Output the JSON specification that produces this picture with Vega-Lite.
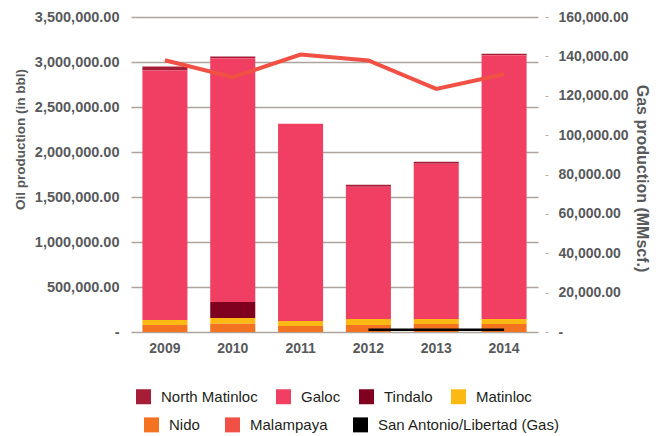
{
  "$schema": "https://vega.github.io/schema/vega-lite/v6.json",
  "autosize": "none",
  "padding": {"left": 131, "top": 17, "right": 132, "bottom": 104},
  "width": 407,
  "height": 315,
  "background": "white",
  "config": {
    "view": {"stroke": null},
    "font": "Liberation Sans",
    "axis": {"labelFont": "Liberation Sans", "titleFont": "Liberation Sans"},
    "legend": {"labelFont": "Liberation Sans"}
  },
  "datasets": {
    "stackorder": [
      {"series": "Nido", "rank": 1},
      {"series": "Matinloc", "rank": 2},
      {"series": "Tindalo", "rank": 3},
      {"series": "Galoc", "rank": 4},
      {"series": "North Matinloc", "rank": 5}
    ],
    "oil": [
      {"year": "2009", "series": "North Matinloc", "oil": 45000},
      {"year": "2009", "series": "Galoc", "oil": 2771000},
      {"year": "2009", "series": "Matinloc", "oil": 56000},
      {"year": "2009", "series": "Nido", "oil": 78000},
      {"year": "2010", "series": "North Matinloc", "oil": 19000},
      {"year": "2010", "series": "Galoc", "oil": 2708000},
      {"year": "2010", "series": "Tindalo", "oil": 178000},
      {"year": "2010", "series": "Matinloc", "oil": 63000},
      {"year": "2010", "series": "Nido", "oil": 92000},
      {"year": "2011", "series": "Galoc", "oil": 2192000},
      {"year": "2011", "series": "Matinloc", "oil": 56000},
      {"year": "2011", "series": "Nido", "oil": 67000},
      {"year": "2012", "series": "North Matinloc", "oil": 22000},
      {"year": "2012", "series": "Galoc", "oil": 1469000},
      {"year": "2012", "series": "Matinloc", "oil": 67000},
      {"year": "2012", "series": "Nido", "oil": 78000},
      {"year": "2013", "series": "North Matinloc", "oil": 22000},
      {"year": "2013", "series": "Galoc", "oil": 1725000},
      {"year": "2013", "series": "Matinloc", "oil": 56000},
      {"year": "2013", "series": "Nido", "oil": 89000},
      {"year": "2014", "series": "North Matinloc", "oil": 17000},
      {"year": "2014", "series": "Galoc", "oil": 2930000},
      {"year": "2014", "series": "Matinloc", "oil": 56000},
      {"year": "2014", "series": "Nido", "oil": 89000}
    ],
    "gas": [
      {"year": "2009", "series": "Malampaya", "gas": 138000},
      {"year": "2010", "series": "Malampaya", "gas": 129400},
      {"year": "2011", "series": "Malampaya", "gas": 140900},
      {"year": "2012", "series": "Malampaya", "gas": 137900},
      {"year": "2013", "series": "Malampaya", "gas": 123500},
      {"year": "2014", "series": "Malampaya", "gas": 130900},
      {"year": "2012", "series": "San Antonio/Libertad (Gas)", "gas": 1200},
      {"year": "2013", "series": "San Antonio/Libertad (Gas)", "gas": 1200},
      {"year": "2014", "series": "San Antonio/Libertad (Gas)", "gas": 1200}
    ]
  },
  "encoding": {
    "x": {
      "field": "year", "type": "ordinal",
      "scale": {"paddingInner": 0.336, "paddingOuter": 0.168},
      "axis": {
        "title": null, "domain": false, "ticks": false, "labelAngle": 0,
        "labelFontSize": 14, "labelFontWeight": "bold", "labelColor": "#58595B",
        "labelPadding": 9
      }
    }
  },
  "layer": [
    {
      "data": {"name": "oil"},
      "transform": [
        {"lookup": "series", "from": {"data": {"name": "stackorder"}, "key": "series", "fields": ["rank"]}}
      ],
      "mark": {"type": "bar"},
      "encoding": {
        "y": {
          "field": "oil", "type": "quantitative", "stack": "zero",
          "scale": {"domain": [0, 3500000], "nice": false},
          "axis": {
            "title": "Oil production (in bbl)", "titleFontSize": 13.5, "titleFontWeight": "bold",
            "titleColor": "#58595B", "titleX": -111, "titleY": 122, "titleBaseline": "middle",
            "titleAnchor": "middle",
            "values": [0, 500000, 1000000, 1500000, 2000000, 2500000, 3000000, 3500000],
            "labelExpr": "datum.value == 0 ? '-' : format(datum.value, ',.2f')",
            "labelFontSize": 14.5, "labelFontWeight": "bold", "labelColor": "#58595B",
            "labelPadding": 12, "ticks": false, "domain": false,
            "grid": true, "gridColor": "#ADA59D", "gridWidth": 1.6
          }
        },
        "order": {"field": "rank", "type": "quantitative", "sort": "ascending"},
        "color": {
          "field": "series", "type": "nominal",
          "scale": {
            "domain": ["North Matinloc", "Galoc", "Tindalo", "Matinloc", "Nido"],
            "range": ["#A61D37", "#F03F63", "#800020", "#FDB913", "#F47321"]
          },
          "legend": {
            "title": null, "orient": "none", "direction": "horizontal",
            "legendX": 5, "legendY": 372,
            "values": ["North Matinloc", "Galoc", "Tindalo", "Matinloc"],
            "symbolType": "square", "symbolSize": 225, "symbolStrokeWidth": 0,
            "labelFontSize": 15, "labelColor": "#231F20", "labelOffset": 10, "labelLimit": 300,
            "columnPadding": 18
          }
        }
      }
    },
    {
      "data": {"name": "gas"},
      "mark": {"type": "line"},
      "encoding": {
        "y": {
          "field": "gas", "type": "quantitative",
          "scale": {"domain": [0, 160000], "nice": false},
          "axis": {
            "orient": "right",
            "title": "Gas production (MMscf.)", "titleFontSize": 16, "titleFontWeight": "bold",
            "titleColor": "#58595B", "titleAngle": 90, "titleX": 96, "titleY": 161, "titleBaseline": "middle",
            "values": [0, 20000, 40000, 60000, 80000, 100000, 120000, 140000, 160000],
            "labelExpr": "datum.value == 0 ? '-' : format(datum.value, ',.2f')",
            "labelFontSize": 14, "labelFontWeight": "bold", "labelColor": "#58595B",
            "labelPadding": 10, "offset": 7, "ticks": true, "tickSize": 3, "tickColor": "#B5ADA6",
            "domain": false, "grid": false
          }
        },
        "color": {
          "field": "series", "type": "nominal",
          "scale": {
            "domain": ["Nido", "Malampaya", "San Antonio/Libertad (Gas)"],
            "range": ["#F47321", "#F15045", "#000000"]
          },
          "legend": {
            "title": null, "orient": "none", "direction": "horizontal",
            "legendX": 13, "legendY": 400,
            "symbolType": "square", "symbolSize": 56, "symbolStrokeWidth": 7.5,
            "labelFontSize": 15, "labelColor": "#231F20", "labelOffset": 10, "labelLimit": 300,
            "columnPadding": 13
          }
        },
        "strokeWidth": {
          "field": "series", "type": "nominal",
          "scale": {"domain": ["Malampaya", "San Antonio/Libertad (Gas)"], "range": [4, 2.5]},
          "legend": null
        }
      }
    }
  ],
  "resolve": {"scale": {"y": "independent", "color": "independent"}}
}
